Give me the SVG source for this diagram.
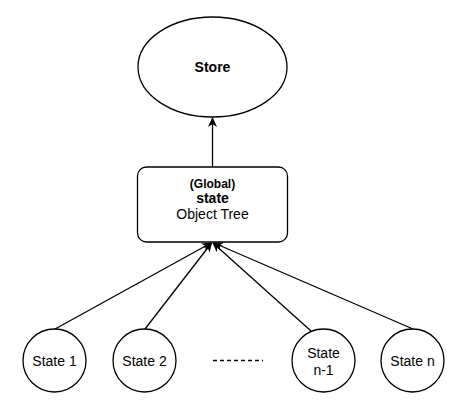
<svg xmlns="http://www.w3.org/2000/svg" width="471" height="412" viewBox="0 0 471 412">
<style>
.shape{fill:#fff;stroke:#000;stroke-width:1.3}
.t{font-family:"Liberation Sans",Arial,sans-serif;font-size:14px;fill:#000;text-anchor:middle}
.b{font-weight:bold}
.edge{stroke:#000;stroke-width:1.3;fill:none}
</style>
<defs>
<marker id="arr" viewBox="0 0 10 10" refX="9" refY="5" markerWidth="10" markerHeight="10" markerUnits="userSpaceOnUse" orient="auto">
<path d="M0,0.5 L10,5 L0,9.5 L3,5 Z" fill="#000"/>
</marker>
</defs>
<rect width="471" height="412" fill="#fff"/>
<g id="connectors">
<line class="edge" x1="212.5" y1="167" x2="212.5" y2="118" marker-end="url(#arr)"/>
<line class="edge" x1="55" y1="329" x2="211" y2="243" marker-end="url(#arr)"/>
<line class="edge" x1="145" y1="329" x2="211.5" y2="243" marker-end="url(#arr)"/>
<line class="edge" x1="311" y1="331" x2="213" y2="243" marker-end="url(#arr)"/>
<line class="edge" x1="413" y1="329" x2="214" y2="243" marker-end="url(#arr)"/>
<line class="edge" x1="213" y1="360.5" x2="263" y2="360.5" stroke-dasharray="4 3"/>
</g>
<g id="store">
<ellipse class="shape" cx="212.5" cy="67" rx="74.5" ry="50"/>
<text class="t b" x="212.5" y="72">Store</text>
</g>
<g id="state-tree">
<rect class="shape" x="137.5" y="167" width="150" height="75" rx="9"/>
<text class="t b" x="212.5" y="188" style="font-size:12px">(Global)</text>
<text class="t b" x="212.5" y="203">state</text>
<text class="t" x="212.5" y="219">Object Tree</text>
</g>
<g id="state1">
<circle class="shape" cx="54.5" cy="360.5" r="31.5"/>
<text class="t" x="54.5" y="365.5">State 1</text>
</g>
<g id="state2">
<circle class="shape" cx="144.5" cy="360.5" r="31.5"/>
<text class="t" x="144.5" y="365.5">State 2</text>
</g>
<g id="state-n-1">
<circle class="shape" cx="323.5" cy="360.5" r="31.5"/>
<text class="t" x="323.5" y="358">State</text>
<text class="t" x="323.5" y="375">n-1</text>
</g>
<g id="state-n">
<circle class="shape" cx="412.5" cy="360.5" r="31.5"/>
<text class="t" x="412.5" y="365.5">State n</text>
</g>
</svg>
